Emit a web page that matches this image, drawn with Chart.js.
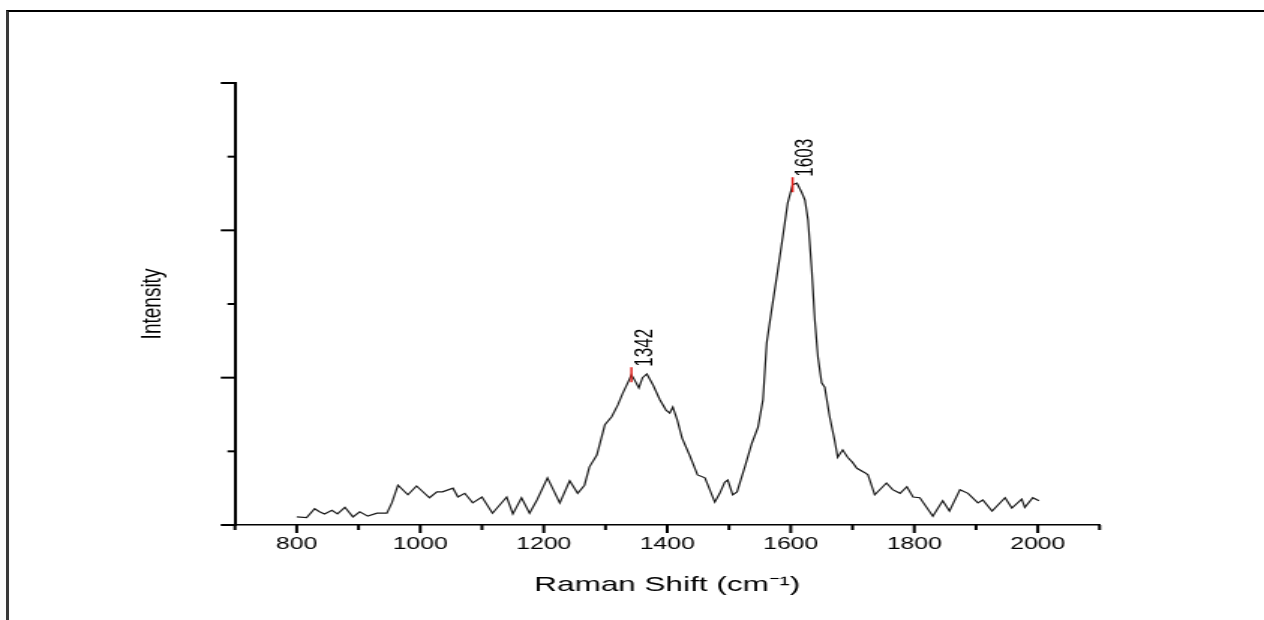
<!DOCTYPE html>
<html>
<head>
<meta charset="utf-8">
<title>Raman spectrum</title>
<script src="https://cdn.jsdelivr.net/npm/chart.js@4"></script>
<style>
  html, body { margin: 0; padding: 0; background: #fff; overflow: hidden; }
  #wrap { position: relative; width: 1264px; height: 620px; }
  #frame { position: absolute; left: 6px; top: 10px; width: 1300px; height: 700px;
           border-left: 3px solid #3a3a3a; border-top: 2px solid #000; }
  /* the original figure is stretched sideways, so the canvas is drawn narrow and widened */
  #chart { position: absolute; left: 0; top: 0; width: 1264px !important; height: 620px !important; }
</style>
</head>
<body>
<div id="wrap">
  <div id="frame"></div>
  <canvas id="chart" width="843" height="620"></canvas>
</div>
<script>
// Spectre Raman

const ramanShift = [
  800, 816, 829, 837, 845, 857, 866, 878, 891, 902, 915, 930, 946, 954, 964, 980, 994,
  1015, 1027, 1036, 1053, 1061, 1072, 1085, 1100, 1117, 1140, 1150, 1164, 1177, 1189,
  1206, 1226, 1242, 1255, 1266, 1274, 1286, 1299, 1310, 1320, 1328, 1336, 1342, 1347,
  1354, 1360, 1367, 1377, 1388, 1398, 1404, 1409, 1416, 1424, 1436, 1449, 1461, 1477,
  1485, 1493, 1498, 1506, 1513, 1526, 1537, 1547, 1555, 1561, 1569, 1579, 1587, 1595,
  1603, 1610, 1618, 1623, 1628, 1634, 1639, 1644, 1650, 1655, 1663, 1671, 1676, 1684,
  1692, 1700, 1707, 1720, 1725, 1736, 1755, 1765, 1777, 1788, 1798, 1809, 1825, 1830,
  1846, 1857, 1874, 1887, 1903, 1911, 1926, 1947, 1958, 1974, 1979, 1992, 2002
];

const intensity = [
  0.11, 0.10, 0.22, 0.18, 0.15, 0.20, 0.15, 0.24, 0.11, 0.18, 0.12, 0.16, 0.16, 0.30, 0.54, 0.41, 0.53,
  0.37, 0.45, 0.45, 0.50, 0.38, 0.43, 0.30, 0.38, 0.16, 0.38, 0.15, 0.37, 0.16, 0.34,
  0.64, 0.30, 0.60, 0.43, 0.54, 0.79, 0.95, 1.36, 1.47, 1.63, 1.79, 1.93, 2.04, 1.97,
  1.86, 2.00, 2.05, 1.90, 1.70, 1.56, 1.52, 1.60, 1.43, 1.18, 0.95, 0.68, 0.64, 0.31,
  0.43, 0.58, 0.61, 0.41, 0.45, 0.80, 1.11, 1.33, 1.70, 2.47, 2.92, 3.46, 3.91, 4.37,
  4.62, 4.64, 4.51, 4.41, 4.14, 3.46, 2.78, 2.28, 1.93, 1.87, 1.47, 1.15, 0.92, 1.02,
  0.92, 0.85, 0.77, 0.71, 0.68, 0.41, 0.57, 0.48, 0.43, 0.52, 0.38, 0.37, 0.18, 0.12,
  0.33, 0.19, 0.48, 0.43, 0.30, 0.34, 0.19, 0.37, 0.23, 0.35, 0.24, 0.37, 0.33
];

// pics marqués
const peakShifts = [1342, 1603];
const peakIntensities = [2.04, 4.62];
const peakLabels = ['1342', '1603'];

const xMin = 700, xMax = 2100, xStep = 100;
const yMin = 0, yMax = 6, yStep = 1;

const FONT = "'Liberation Sans', Arial, sans-serif";

// ticks majeurs / mineurs dessinés à partir des ticks de l'échelle
const axisTicks = {
  id: 'axisTicks',
  afterDraw(chart) {
    const { ctx, scales: { x, y }, chartArea } = chart;
    ctx.save();
    ctx.strokeStyle = '#000';
    ctx.lineCap = 'butt';
    ctx.lineWidth = 2;
    x.ticks.forEach(t => {
      const px = x.getPixelForValue(t.value);
      const len = t.value % 200 === 0 ? 8 : 5;
      ctx.beginPath();
      ctx.moveTo(px, chartArea.bottom);
      ctx.lineTo(px, chartArea.bottom + len);
      ctx.stroke();
    });
    y.ticks.forEach(t => {
      const py = y.getPixelForValue(t.value);
      const len = t.value % 2 === 0 ? 9.5 : 5;
      ctx.beginPath();
      ctx.moveTo(chartArea.left, py);
      ctx.lineTo(chartArea.left - len, py);
      ctx.stroke();
    });
    ctx.restore();
  }
};

// étiquettes verticales des pics
const peakText = {
  id: 'peakText',
  afterDatasetsDraw(chart) {
    const { ctx, scales: { x, y } } = chart;
    ctx.save();
    ctx.fillStyle = '#000';
    ctx.font = '17px ' + FONT;
    ctx.textAlign = 'left';
    ctx.textBaseline = 'alphabetic';
    peakShifts.forEach((s, i) => {
      const px = x.getPixelForValue(s) + 13.5;
      const py = y.getPixelForValue(peakIntensities[i]) - 8;
      ctx.save();
      ctx.translate(px, py);
      ctx.rotate(-Math.PI / 2);
      ctx.fillText(peakLabels[i], 0, 0);
      ctx.restore();
    });
    ctx.restore();
  }
};

new Chart(document.getElementById('chart'), {
  type: 'line',
  data: {
    datasets: [{
      label: 'Spectre',
      data: ramanShift.map((v, i) => ({ x: v, y: intensity[i] })),
      borderColor: '#1a1a1a',
      borderWidth: 1.2,
      pointRadius: 0,
      tension: 0,
      fill: false,
      order: 2
    }, {
      type: 'scatter',
      label: 'Pics',
      data: peakShifts.map((v, i) => ({ x: v, y: peakIntensities[i] })),
      pointStyle: 'line',
      rotation: 90,
      radius: 7.5,
      borderColor: '#e0201b',
      borderWidth: 1.5,
      order: 1
    }]
  },
  options: {
    responsive: false,
    devicePixelRatio: 1,
    animation: false,
    layout: { padding: { left: 0, top: 83, right: 109.7, bottom: 0 } },
    plugins: {
      legend: { display: false },
      tooltip: { enabled: false }
    },
    scales: {
      x: {
        type: 'linear',
        min: xMin,
        max: xMax,
        afterFit: s => { s.height = 95; },
        ticks: {
          stepSize: xStep,
          padding: 10,
          color: '#000',
          maxRotation: 0,
          autoSkip: false,
          font: { family: FONT, size: 16.5 },
          callback: v => (v % 200 === 0 ? String(v) : '')
        },
        grid: { display: false, drawTicks: false },
        border: { display: true, color: '#000', width: 1.6 },
        title: {
          display: true,
          text: 'Raman Shift (cm\u207B\u00B9)',
          color: '#000',
          font: { family: FONT, size: 21 },
          padding: { top: 0, bottom: 22 }
        }
      },
      y: {
        min: yMin,
        max: yMax,
        afterFit: s => { s.width = 156.7; },
        ticks: { stepSize: yStep, display: false },
        grid: { display: false, drawTicks: false },
        border: { display: true, color: '#000', width: 2 },
        title: {
          display: true,
          text: 'Intensity',
          color: '#000',
          font: { family: FONT, size: 19 },
          padding: { top: 90, bottom: 0 }
        }
      }
    }
  },
  plugins: [axisTicks, peakText]
});
</script>
</body>
</html>
